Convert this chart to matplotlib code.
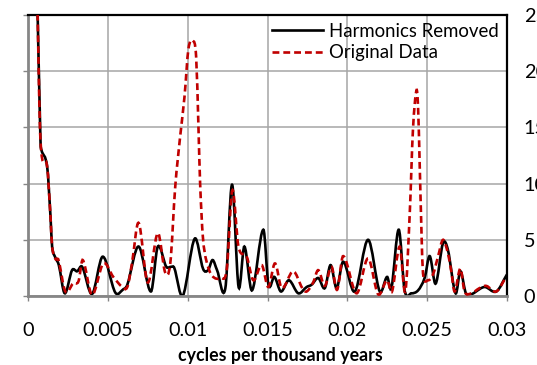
import numpy as np
import matplotlib
matplotlib.use("Agg")
import matplotlib.pyplot as plt
from matplotlib.path import Path
from matplotlib.patches import PathPatch
from matplotlib.lines import Line2D

plt.rcParams['font.family'] = ['Lato', 'DejaVu Sans']

# Spectral power, frequency in cycles per thousand years
freq_removed = [0.00056, 0.00078, 0.00084, 0.00120, 0.00141, 0.00151, 0.00172, 0.00193,
                0.00230, 0.00276, 0.00308, 0.00339, 0.00401, 0.00468, 0.00547, 0.00597,
                0.00622, 0.00693, 0.00770, 0.00813, 0.00866, 0.00897, 0.00916, 0.00969,
                0.01044, 0.01097, 0.01128, 0.01156, 0.01184, 0.01236, 0.01278, 0.01319,
                0.01355, 0.01403, 0.01474, 0.01506, 0.01543, 0.01584, 0.01634, 0.01693,
                0.01745, 0.01776, 0.01818, 0.01859, 0.01895, 0.01933, 0.01974, 0.02047,
                0.02130, 0.02203, 0.02249, 0.02276, 0.02322, 0.02359, 0.02401, 0.02443,
                0.02484, 0.02516, 0.02553, 0.02599, 0.02630, 0.02678, 0.02708, 0.02745,
                0.02859, 0.02933, 0.02999]
power_removed = [28.0, 13.9, 13.0, 11.5, 7.05, 4.4, 3.4, 2.75,
                 0.24, 2.3, 2.2, 2.6, 0.18, 3.5, 0.3, 0.6,
                 1.0, 4.4, 0.4, 4.4, 2.6, 2.6, 2.5, 0.0,
                 5.1, 2.4, 2.3, 3.2, 2.3, 0.7, 9.9, 0.8,
                 4.4, 0.5, 5.9, 1.0, 1.7, 0.4, 1.4, 0.24,
                 0.8, 1.0, 1.6, 0.7, 2.75, 0.7, 3.05, 0.4,
                 5.0, 0.4, 1.7, 0.7, 5.9, 0.5, 0.24, 0.5,
                 1.6, 3.55, 1.1, 4.7, 4.1, 0.24, 2.2, 0.2,
                 0.8, 0.4, 1.9]

freq_original = [0.00056, 0.00078, 0.00120, 0.00141, 0.00151, 0.00172, 0.00191, 0.00234,
                 0.00284, 0.00316, 0.00343, 0.00401, 0.00472, 0.00534, 0.00591, 0.00622,
                 0.00651, 0.00693, 0.00750, 0.00813, 0.00859, 0.00891, 0.00922, 0.00953,
                 0.00980, 0.01005, 0.01033, 0.01053, 0.01068, 0.01078, 0.01095, 0.01116,
                 0.01153, 0.01209, 0.01245, 0.01280, 0.01318, 0.01370, 0.01411, 0.01464,
                 0.01505, 0.01547, 0.01589, 0.01661, 0.01718, 0.01745, 0.01786, 0.01818,
                 0.01859, 0.01901, 0.01936, 0.01974, 0.02058, 0.02130, 0.02193, 0.02249,
                 0.02280, 0.02328, 0.02363, 0.02391, 0.02411, 0.02433, 0.02443, 0.02453,
                 0.02464, 0.02474, 0.02505, 0.02536, 0.02568, 0.02599, 0.02630, 0.02651,
                 0.02672, 0.02708, 0.02734, 0.02776, 0.02828, 0.02870, 0.02933, 0.02995]
power_original = [28.0, 13.9, 11.5, 7.05, 4.4, 3.3, 3.2, 0.4,
                  1.15, 1.3, 3.2, 0.1, 2.9, 1.7, 0.8, 0.8,
                  2.9, 6.5, 1.2, 5.6, 2.1, 2.9, 9.7, 14.2,
                  17.7, 22.0, 22.7, 21.3, 14.8, 10.0, 5.3, 3.2,
                  1.8, 1.6, 2.4, 9.4, 4.4, 3.5, 1.4, 2.75,
                  0.8, 2.9, 0.7, 2.2, 0.7, 0.4, 1.2, 2.3,
                  0.9, 2.6, 0.55, 3.55, 0.24, 3.35, 0.15, 1.4,
                  0.4, 4.4, 0.4, 7.4, 14.8, 18.3, 16.8, 11.8,
                  5.9, 2.0, 1.4, 1.9, 3.5, 5.0, 3.8, 2.2,
                  0.4, 2.45, 0.4, 0.24, 0.7, 0.9, 0.4, 1.7]

x_ticks = [0, 0.005, 0.01, 0.015, 0.02, 0.025, 0.03]
x_tick_labels = ["0", "0.005", "0.01", "0.015", "0.02", "0.025", "0.03"]
y_ticks = [0, 5, 10, 15, 20, 25]
y_tick_labels = ["0", "5", "10", "15", "20", "25"]
series_names = ["Harmonics Removed", "Original Data"]
x_title = "cycles per thousand years"


def smooth_path(xs, ys):
    """Cubic Hermite Bezier path through the points (smoothed line)."""
    xs = np.asarray(xs, float)
    ys = np.asarray(ys, float)
    n = len(xs)
    m = np.zeros(n)
    m[1:-1] = (ys[2:] - ys[:-2]) / (xs[2:] - xs[:-2])
    m[0] = (ys[1] - ys[0]) / (xs[1] - xs[0])
    m[-1] = (ys[-1] - ys[-2]) / (xs[-1] - xs[-2])
    verts = [(xs[0], ys[0])]
    codes = [Path.MOVETO]
    for i in range(n - 1):
        h = xs[i + 1] - xs[i]
        verts += [(xs[i] + h / 3, ys[i] + m[i] * h / 3),
                  (xs[i + 1] - h / 3, ys[i + 1] - m[i + 1] * h / 3),
                  (xs[i + 1], ys[i + 1])]
        codes += [Path.CURVE4] * 3
    return Path(verts, codes)


W, H = 537, 365
fig = plt.figure(figsize=(W / 100, H / 100), dpi=100)
L, R, T, B = 28, 507, 15, 296
ax = fig.add_axes([L / W, 1 - B / H, (R - L) / W, (B - T) / H])

red = "#C00000"
lw = 1.9
red_dash = (0, (2.6, 1.5))

ax.add_patch(PathPatch(smooth_path(freq_original, power_original), fill=False,
                       edgecolor=red, lw=lw, linestyle=red_dash, zorder=3))
ax.add_patch(PathPatch(smooth_path(freq_removed, power_removed), fill=False,
                       edgecolor="black", lw=lw, capstyle="round", zorder=2))

ax.set_xlim(0, 0.03)
ax.set_ylim(0, 25)
ax.set_xticks(x_ticks)
ax.set_xticklabels(x_tick_labels)
ax.set_yticks(y_ticks)
ax.set_yticklabels(y_tick_labels)

ax.grid(True, color="#a6a6a6", lw=1.1)
ax.set_axisbelow(True)

for side in ("left", "bottom"):
    ax.spines[side].set_color("#868686")
    ax.spines[side].set_linewidth(2.0)
for side in ("top", "right"):
    ax.spines[side].set_color("black")
    ax.spines[side].set_linewidth(1.6)

ax.tick_params(axis="x", direction="out", length=3.5, width=1.0, color="#868686",
               labelsize=14.3, pad=15)
ax.tick_params(axis="y", direction="out", length=3.5, width=1.0, color="#868686",
               left=True, right=False, labelleft=False, labelright=True,
               labelsize=14.3, pad=8.5)

ax.set_xlabel(x_title, fontsize=12.8, fontweight="bold")
ax.xaxis.label.set_va("center")
ax.xaxis.set_label_coords((280 - L) / (R - L), (B - 355) / (B - T))

handles = [Line2D([], [], color="black", lw=lw),
           Line2D([], [], color=red, lw=lw, linestyle=red_dash)]
leg = fig.legend(handles, series_names, loc="upper left",
                 bbox_to_anchor=(272 / W, 1 - 23 / H), fontsize=13.4,
                 frameon=False, handlelength=2.74, handletextpad=0.32,
                 labelspacing=0.22, borderpad=0.0, borderaxespad=0.0)

fig.savefig("out.png", dpi=100)
